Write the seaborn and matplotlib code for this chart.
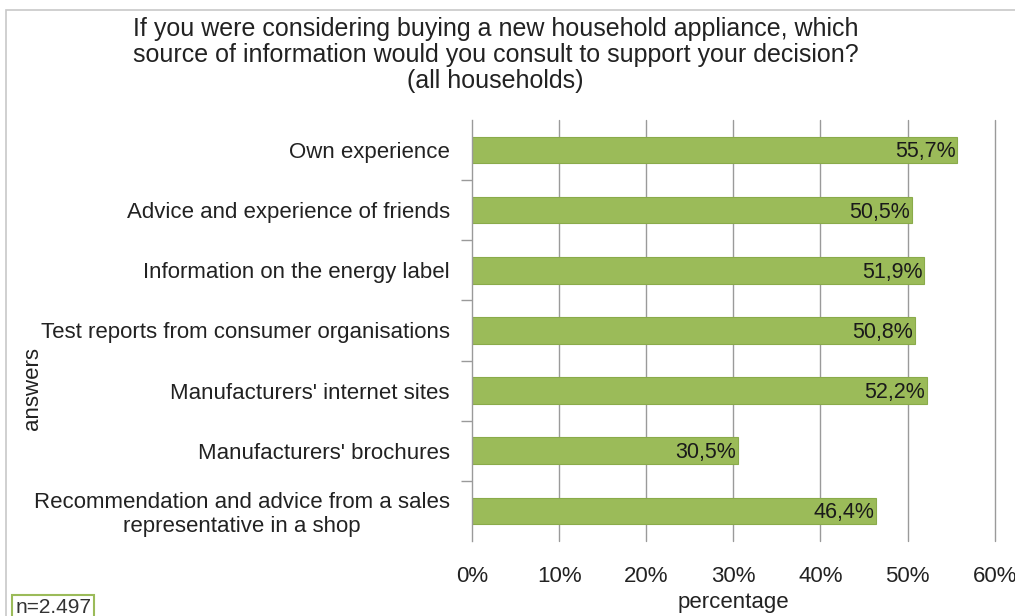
import matplotlib
matplotlib.use("Agg")
import matplotlib.pyplot as plt
from matplotlib.patches import Rectangle
from matplotlib.ticker import FixedLocator, PercentFormatter
import seaborn as sns
import pandas as pd

categories = [
    "Own experience",
    "Advice and experience of friends",
    "Information on the energy label",
    "Test reports from consumer organisations",
    "Manufacturers' internet sites",
    "Manufacturers' brochures",
    "Recommendation and advice from a sales\nrepresentative in a shop",
]
values = [55.7, 50.5, 51.9, 50.8, 52.2, 30.5, 46.4]
x_ticks = [0, 10, 20, 30, 40, 50, 60]

df = pd.DataFrame({"answer": categories, "pct": values})

sns.set_theme(style="white")
plt.rcParams["font.family"] = ["Liberation Sans", "DejaVu Sans"]

fig = plt.figure(figsize=(10.15, 6.16), dpi=100)
ax = fig.add_axes([0.465, 0.122, 0.515, 0.683])

sns.barplot(data=df, x="pct", y="answer", ax=ax, color="#9BBB59",
            saturation=1, width=0.44, edgecolor="#8aab4a", linewidth=0.8)

ax.set_xlim(0, 60)
ax.set_ylim(len(categories) - 0.5, -0.5)
ax.xaxis.set_major_locator(FixedLocator(x_ticks))
ax.xaxis.set_major_formatter(PercentFormatter(decimals=0))
ax.set_axisbelow(True)
for t in x_ticks[1:]:
    ax.axvline(t, color="#9a9a9a", linewidth=1.0, zorder=0, clip_on=False)

for spine in ["top", "right", "bottom"]:
    ax.spines[spine].set_visible(False)
ax.spines["left"].set_color("#9a9a9a")
ax.spines["left"].set_linewidth(1.0)

# category separators on the left axis
ax.set_yticks([i + 0.5 for i in range(len(categories) - 1)], minor=True)
ax.tick_params(axis="y", which="minor", length=8, color="#9a9a9a", width=1, left=True)
ax.tick_params(axis="y", which="major", length=0, pad=16, labelsize=16, labelcolor="#222222")
ax.tick_params(axis="x", which="major", length=0, pad=18, labelsize=16, labelcolor="#222222")
for lbl in ax.get_yticklabels():
    lbl.set_multialignment("center")

ax.set_xlabel("percentage", fontsize=16, color="#222222", labelpad=4)
ax.set_ylabel("")
fig.text(0.032, 0.37, "answers", rotation=90, fontsize=16, color="#222222",
         ha="center", va="center")

for i, v in enumerate(values):
    ax.text(v - 0.2, i + 0.03, f"{v:.1f}%".replace(".", ","), ha="right", va="center",
            fontsize=15.5, color="#1a1a1a")

fig.text(0.488, 0.911,
         "If you were considering buying a new household appliance, which\n"
         "source of information would you consult to support your decision?\n"
         "(all households)",
         ha="center", va="center", fontsize=18, color="#222222", linespacing=1.12)

# outer chart frame
fig.add_artist(Rectangle((0.006, -0.02), 1.0, 1.004,
                         transform=fig.transFigure, fill=False,
                         edgecolor="#c8c8c8", linewidth=1.2))

fig.text(0.015, 0.013, "n=2.497", fontsize=15, color="#333333", ha="left", va="center",
         bbox=dict(boxstyle="square,pad=0.15", facecolor="white", edgecolor="#9BBB59", linewidth=1.5))

fig.savefig("out.png", dpi=100)
